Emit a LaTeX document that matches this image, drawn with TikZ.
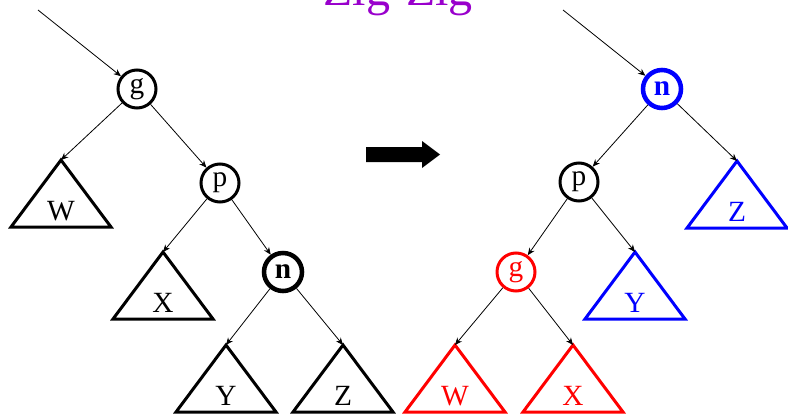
\documentclass[tikz,border=0pt]{standalone}
\usepackage{fontspec}
\setmainfont{Liberation Serif}
\usetikzlibrary{arrows.meta}

\definecolor{titlepurple}{RGB}{153,0,204}

% subtree as a triangle hung from its apex: [colour]{name}{apex}{label}
\newcommand\subtree[4][black]{%
  \coordinate (#2) at (#3);
  \draw[tri,#1] (#2) -- ++(-50,67) -- ++(100,0) -- cycle;
  \path (#2) ++(0,51) node[lbl,#1] (#2lbl) {#4};}

\begin{document}
\begin{tikzpicture}[
  x=0.75pt,y=-0.75pt,
  key/.style={circle,draw,line width=2.25pt,minimum size=28.5pt,inner sep=0pt,
    font=\fontsize{22}{24}\selectfont},
  splayed/.style={key,line width=3.4pt,font=\fontsize{22}{24}\selectfont\bfseries},
  tri/.style={line width=2.25pt,line join=miter},
  lbl/.style={font=\fontsize{22}{24}\selectfont},
  edge/.style={-{Stealth[length=5.5pt,width=4.6pt]},line width=0.6pt}]
\useasboundingbox (0,0) rectangle (788,414);

\node[titlepurple,anchor=base,font=\fontsize{36}{40}\selectfont] (title) at (398,5) {Zig-Zig};

% before the rotation
\coordinate (inL) at (38,10);
\node[key] (gL) at (137,89) {g};
\node[key] (pL) at (220,183) {p};
\node[splayed] (nL) at (283,272) {n};
\subtree{WL}{61,160}{W}
\subtree{XL}{163,252}{X}
\subtree{YL}{226,345}{Y}
\subtree{ZL}{343,345}{Z}
\draw[edge] (inL) -- (gL);
\draw[edge] (gL) -- (WL); \draw[edge] (gL) -- (pL);
\draw[edge] (pL) -- (XL); \draw[edge] (pL) -- (nL);
\draw[edge] (nL) -- (YL); \draw[edge] (nL) -- (ZL);

% big arrow in the middle
\fill (366,147) -- (422,147) -- (422,141) -- (440,154.5) -- (422,168)
  -- (422,162) -- (366,162) -- cycle;

% after the rotation
\coordinate (inR) at (563,10);
\node[splayed,blue] (nR) at (662,89) {n};
\node[key] (pR) at (579,182) {p};
\node[key,red] (gR) at (516,272) {g};
\subtree[blue]{ZR}{737,161}{Z}
\subtree[blue]{YR}{635,252}{Y}
\subtree[red]{WR}{455,345}{W}
\subtree[red]{XR}{573,345}{X}
\draw[edge] (inR) -- (nR);
\draw[edge] (nR) -- (pR); \draw[edge] (nR) -- (ZR);
\draw[edge] (pR) -- (gR); \draw[edge] (pR) -- (YR);
\draw[edge] (gR) -- (WR); \draw[edge] (gR) -- (XR);
\end{tikzpicture}
\end{document}
